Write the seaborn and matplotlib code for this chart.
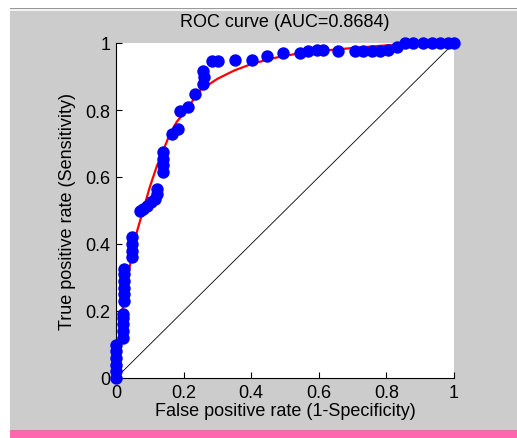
import matplotlib
matplotlib.use('Agg')
import matplotlib.pyplot as plt
import matplotlib.patches as patches
import seaborn as sns
import pandas as pd

# ROC points (false positive rate, true positive rate)
fpr_pts = [0, 0, 0, 0, 0, 0,
           0.022, 0.022, 0.022, 0.022, 0.022,
           0.024, 0.024, 0.024, 0.025, 0.025, 0.025,
           0.046, 0.046, 0.046, 0.046,
           0.07, 0.08, 0.091, 0.105, 0.115, 0.12, 0.12, 0.14, 0.14, 0.14, 0.14,
           0.165, 0.184, 0.189, 0.214, 0.234, 0.256, 0.26, 0.258,
           0.283, 0.303, 0.352, 0.401, 0.446, 0.495, 0.544, 0.568, 0.594, 0.613,
           0.657, 0.707, 0.732, 0.756, 0.781, 0.806, 0.83, 0.855, 0.88, 0.909,
           0.934, 0.959, 0.983, 1.0]
tpr_pts = [0, 0.02, 0.04, 0.06, 0.08, 0.1,
           0.12, 0.14, 0.16, 0.18, 0.19,
           0.23, 0.25, 0.27, 0.29, 0.31, 0.325,
           0.36, 0.38, 0.40, 0.42,
           0.50, 0.505, 0.514, 0.525, 0.534, 0.55, 0.564, 0.614, 0.635, 0.655, 0.675,
           0.728, 0.743, 0.798, 0.808, 0.848, 0.878, 0.90, 0.915,
           0.947, 0.947, 0.95, 0.95, 0.962, 0.97, 0.97, 0.975, 0.98, 0.98,
           0.976, 0.976, 0.976, 0.976, 0.977, 0.98, 0.987, 1.0, 1.0, 1.0,
           1.0, 1.0, 1.0, 1.0]

# fitted (smooth) ROC curve
fit_x = [0, 0.005, 0.01, 0.02, 0.03, 0.04, 0.06, 0.08, 0.10, 0.12, 0.14, 0.16,
         0.18, 0.20, 0.25, 0.30, 0.35, 0.40, 0.45, 0.50, 0.55, 0.60, 0.70, 0.80,
         0.90, 1.0]
fit_y = [0, 0.08, 0.13, 0.21, 0.28, 0.33, 0.43, 0.50, 0.57, 0.63, 0.68, 0.73,
         0.765, 0.79, 0.86, 0.893, 0.918, 0.937, 0.951, 0.962, 0.970, 0.976, 0.985,
         0.993, 0.998, 1.0]

ticks = [0, 0.2, 0.4, 0.6, 0.8, 1]
tick_labels = ['0', '0.2', '0.4', '0.6', '0.8', '1']

plt.rcParams['font.family'] = ['Liberation Sans', 'DejaVu Sans']
plt.rcParams['font.size'] = 13

fig = plt.figure(figsize=(5.17, 4.39), dpi=100, facecolor='white')
W, H = 517, 439


def band(y0, h, color):
    # window background pieces, in pixels from the bottom
    fig.patches.append(patches.Rectangle((10 / W, y0 / H), (W - 10) / W, h / H,
                                         transform=fig.transFigure, facecolor=color,
                                         edgecolor='none', zorder=-10))


band(0, 430, '#cccccc')
band(429, 1, '#999999')
band(427, 2, '#f2f2f2')
band(0, 8, '#ff66b0')
band(7, 1.5, '#e0709f')

ax = fig.add_axes([116 / W, 60 / H, 338 / W, 335 / H])
ax.set_facecolor('white')

ax.plot([0, 1], [0, 1], color='black', lw=0.6)
sns.lineplot(x=fit_x, y=fit_y, color='red', lw=1.6, sort=False, estimator=None, ax=ax)
pts = pd.DataFrame({'fpr': fpr_pts, 'tpr': tpr_pts})
sns.scatterplot(data=pts, x='fpr', y='tpr', color='#0000ff', s=80, edgecolor='#0000ff',
                linewidth=0, clip_on=False, zorder=5, ax=ax)

ax.set_xlim(0, 1)
ax.set_ylim(0, 1)
ax.set_xticks(ticks)
ax.set_xticklabels(tick_labels)
ax.set_yticks(ticks)
ax.set_yticklabels(tick_labels)
ax.tick_params(direction='in', length=4, width=0.8, colors='black', labelsize=13, pad=4)
for s in ['top', 'right']:
    ax.spines[s].set_visible(False)
for s in ['left', 'bottom']:
    ax.spines[s].set_color('black')
    ax.spines[s].set_linewidth(0.8)

ax.set_title('ROC curve (AUC=0.8684)', fontsize=13, pad=12)
ax.set_xlabel('False positive rate (1-Specificity)', fontsize=13, labelpad=1)
ax.set_ylabel('True positive rate (Sensitivity)', fontsize=13, labelpad=7)

fig.savefig('out.png', dpi=100, facecolor='white')
